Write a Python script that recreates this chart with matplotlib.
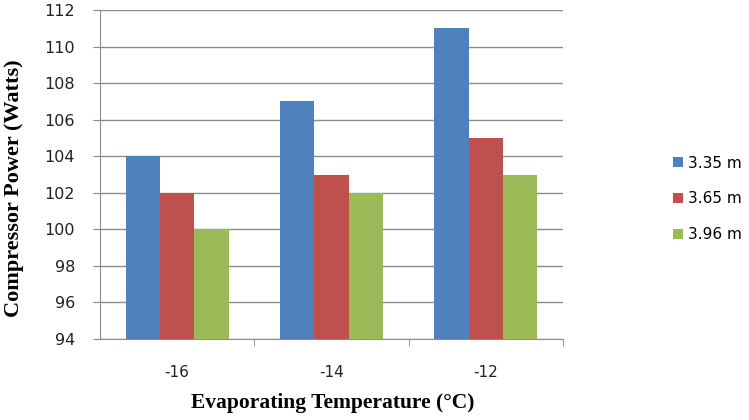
import numpy as np
import matplotlib
matplotlib.use('Agg')
import matplotlib.pyplot as plt

categories = ['-16', '-14', '-12']
series_names = ['3.35 m', '3.65 m', '3.96 m']
power_335 = [104, 107, 111]
power_365 = [102, 103, 105]
power_396 = [100, 102, 103]

colors = ['#4F81BD', '#C0504D', '#9BBB59']

fig = plt.figure(figsize=(7.49, 4.2), dpi=100)
ax = fig.add_axes([100/749, 1 - 339/420, 463/749, 329/420])

x = np.arange(len(categories))
w = 1 / 4.5
for i, (vals, name) in enumerate(zip([power_335, power_365, power_396], series_names)):
    ax.bar(x + (i - 1) * w, np.array(vals) - 94, bottom=94, width=w,
           color=colors[i], label=name, zorder=3)

ax.set_ylim(94, 112)
ax.set_yticks(np.arange(94, 113, 2))
ax.set_xlim(-0.5, 2.5)
ax.set_xticks(x)
ax.set_xticklabels(categories)
ax.set_xticks([0.5, 1.5, 2.5], minor=True)
ax.tick_params(axis='x', which='major', length=0, pad=19, labelsize=11)
ax.tick_params(axis='x', which='minor', length=5, color='#888888')
ax.tick_params(axis='y', length=5, color='#888888', labelsize=11.5, pad=13)
for lab in ax.get_xticklabels() + ax.get_yticklabels():
    lab.set_family('DejaVu Sans')
    lab.set_color('#222222')

ax.grid(axis='y', color='#8c8c8c', linewidth=1, zorder=0)
for s in ['top', 'right']:
    ax.spines[s].set_visible(False)
ax.spines['left'].set_color('#8c8c8c')
ax.spines['bottom'].set_color('#8c8c8c')

ax.set_ylabel('Compressor Power (Watts)', family='Liberation Serif',
              fontweight='bold', fontsize=16)
ax.yaxis.set_label_coords(-0.165, 0.459)
ax.set_xlabel('Evaporating Temperature (°C)', family='Liberation Serif',
              fontweight='bold', fontsize=15.5)
ax.xaxis.set_label_coords(0.503, -0.164)

leg = ax.legend(loc='center left', bbox_to_anchor=(1.2376, 0.426), frameon=False,
                borderpad=0, borderaxespad=0,
                handlelength=0.65, handleheight=0.65, labelspacing=1.35,
                handletextpad=0.35, prop={'family': 'DejaVu Sans', 'size': 11})

fig.savefig('out.png', dpi=100)
